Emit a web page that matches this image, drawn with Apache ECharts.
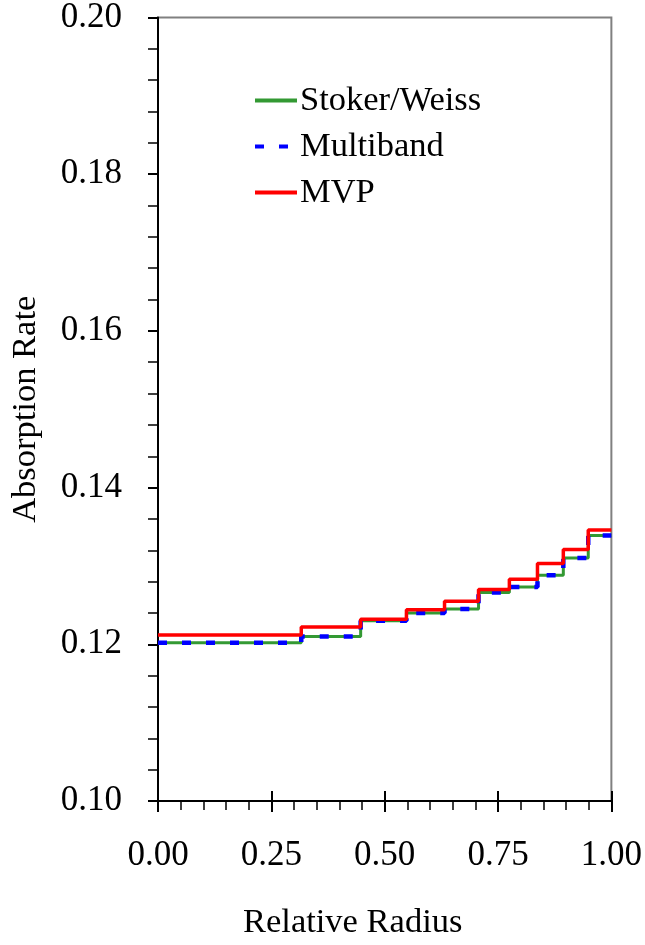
<!DOCTYPE html>
<html>
<head>
<meta charset="utf-8">
<script src="https://cdn.jsdelivr.net/npm/echarts@6/dist/echarts.min.js"></script>
<style>
  html, body { margin: 0; padding: 0; background: #fff; }
  #chart { width: 645px; height: 945px; }
</style>
</head>
<body>
<div id="chart"></div>
<script>
// Ring outer radii (relative), equal-area rings
const ringRadius = [0.316, 0.447, 0.548, 0.632, 0.707, 0.775, 0.837, 0.894, 0.949, 1.0];
// Absorption rate per ring
const stokerWeiss = [0.1202, 0.1210, 0.1230, 0.1240, 0.1245, 0.1266, 0.1273, 0.1288, 0.1310, 0.1339];
const multiband   = [0.1202, 0.1210, 0.1230, 0.1240, 0.1245, 0.1266, 0.1273, 0.1288, 0.1310, 0.1339];
const mvp         = [0.1212, 0.1222, 0.1232, 0.1244, 0.1255, 0.1270, 0.1283, 0.1303, 0.1321, 0.1346];
const seriesNames = ['Stoker/Weiss', 'Multiband', 'MVP'];

const fontFam = '"Liberation Serif", "Times New Roman", serif';

// step 'end' : horizontal first, then jump at next ring boundary
function stepData(values) {
    const pts = [[0, values[0]]];
    for (let i = 1; i < values.length; i++) {
        pts.push([ringRadius[i - 1], values[i]]);
    }
    pts.push([ringRadius[ringRadius.length - 1], values[values.length - 1]]);
    return pts;
}

const chart = echarts.init(document.getElementById('chart'), null, { renderer: 'canvas' });

const option = {
    backgroundColor: '#fff',
    animation: false,
    grid: {
        left: 158, right: 29, top: 15, bottom: 141,
        show: true,
        borderColor: '#808080',
        borderWidth: 2,
        backgroundColor: 'transparent'
    },
    legend: {
        orient: 'vertical',
        left: 248,
        top: 78,
        itemWidth: 42,
        itemHeight: 14,
        itemGap: 11,
        data: seriesNames,
        itemStyle: { opacity: 0 },
        lineStyle: { width: 4 },
        textStyle: { fontFamily: fontFam, fontSize: 34.5, color: '#000', lineHeight: 35, padding: [0, 0, 0, -2] }
    },
    xAxis: [{
        type: 'value',
        min: 0, max: 1, interval: 0.25,
        name: 'Relative Radius',
        nameLocation: 'middle',
        nameGap: 104,
        nameTextStyle: { fontFamily: fontFam, fontSize: 34.5, color: '#000', padding: [0, 64, 0, 0] },
        axisLine: { lineStyle: { color: '#000', width: 2 } },
        axisTick: { length: 11, lineStyle: { color: '#000', width: 2 } },
        minorTick: { show: true, splitNumber: 5, length: 9, lineStyle: { color: '#000', width: 1.5 } },
        axisLabel: {
            margin: 37, fontFamily: fontFam, fontSize: 35, color: '#000',
            formatter: v => v.toFixed(2)
        },
        splitLine: { show: false }
    }, {
        type: 'value',
        min: 0, max: 1, interval: 0.25,
        position: 'bottom',
        axisLine: { show: false },
        axisTick: { inside: true, length: 10, lineStyle: { color: '#000', width: 2 } },
        axisLabel: { show: false },
        splitLine: { show: false }
    }],
    yAxis: {
        type: 'value',
        min: 0.10, max: 0.20, interval: 0.02,
        name: 'Absorption Rate',
        nameLocation: 'middle',
        nameGap: 115,
        nameRotate: 90,
        nameTextStyle: { fontFamily: fontFam, fontSize: 34.5, color: '#000' },
        axisLine: { lineStyle: { color: '#000', width: 2 } },
        axisTick: { length: 10, lineStyle: { color: '#000', width: 2 } },
        minorTick: { show: true, splitNumber: 5, length: 10, lineStyle: { color: '#000', width: 1.5 } },
        axisLabel: {
            margin: 36, fontFamily: fontFam, fontSize: 35, color: '#000',
            formatter: v => v.toFixed(2)
        },
        splitLine: { show: false }
    },
    series: [{
        name: seriesNames[0],
        type: 'line',
        step: 'end',
        symbol: 'none',
        data: stepData(stokerWeiss),
        lineStyle: { color: '#339933', width: 3 },
        itemStyle: { color: '#339933' }
    }, {
        name: seriesNames[1],
        type: 'line',
        step: 'end',
        symbol: 'none',
        data: stepData(multiband),
        lineStyle: { color: '#0000ff', width: 4.5, type: [9, 15] },
        itemStyle: { color: '#0000ff' }
    }, {
        name: seriesNames[2],
        type: 'line',
        step: 'end',
        symbol: 'none',
        data: stepData(mvp),
        lineStyle: { color: '#ff0000', width: 3.5 },
        itemStyle: { color: '#ff0000' }
    }]
};

chart.setOption(option);
</script>
</body>
</html>
